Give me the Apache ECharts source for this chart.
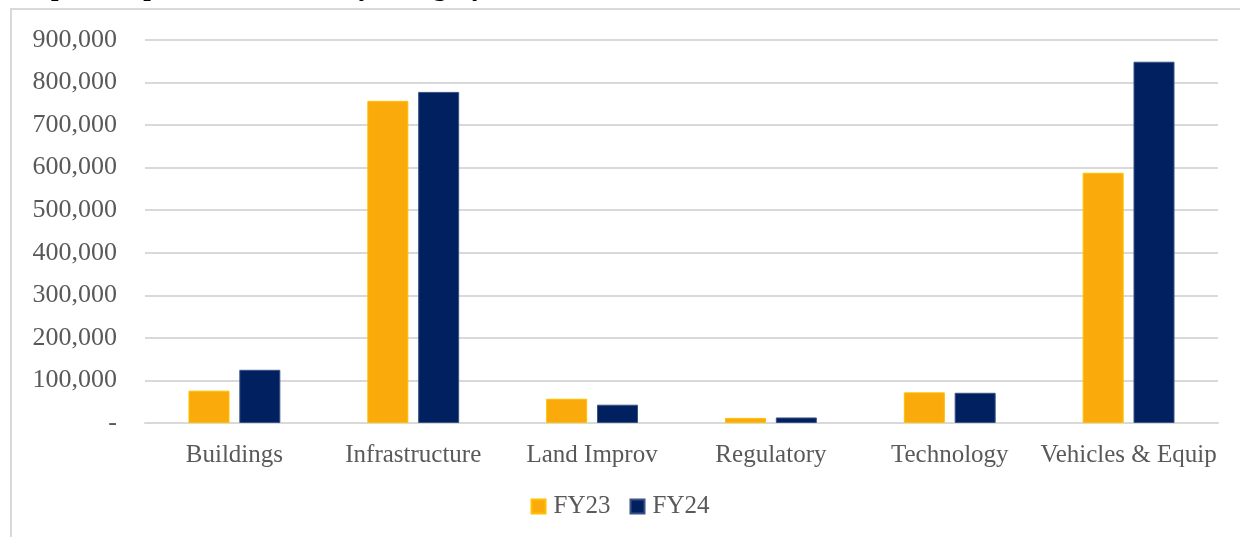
<!DOCTYPE html>
<html>
<head>
<meta charset="utf-8">
<title>Capital Improvement Costs by Category</title>
<script src="https://cdn.jsdelivr.net/npm/echarts@6/dist/echarts.min.js"></script>
<style>
    html, body { margin: 0; padding: 0; background: #fff; }
    #chart { width: 1240px; height: 537px; }
</style>
</head>
<body>
<div id="chart"></div>
<script>
    // data
    var categories = ['Buildings', 'Infrastructure', 'Land Improv', 'Regulatory', 'Technology', 'Vehicles & Equip'];
    var fy23 = [76000, 757000, 57000, 12000, 72000, 588000];
    var fy24 = [125000, 778000, 43000, 13000, 71000, 849000];
    var seriesNames = ['FY23', 'FY24'];

    var font = '"Liberation Serif", "DejaVu Serif", serif';
    var myChart = echarts.init(document.getElementById('chart'));

    myChart.setOption({
        animation: false,
        textStyle: { fontFamily: font },
        graphic: [
            {
                // frame round the chart
                type: 'rect',
                z: -1,
                shape: { x: 11, y: 9, width: 1260, height: 600 },
                style: { fill: 'none', stroke: '#d9d9d9', lineWidth: 2 }
            },
            {
                // title, mostly cut off at the top edge
                type: 'text',
                x: 18,
                y: 2,
                style: {
                    text: 'Capital Improvement Costs by Category',
                    font: 'bold 27px ' + font,
                    fill: '#000',
                    verticalAlign: 'bottom'
                }
            }
        ],
        grid: { left: 145, right: 22, top: 40, bottom: 114 },
        legend: {
            data: seriesNames,
            bottom: 13,
            left: 'center',
            itemWidth: 14,
            itemHeight: 14,
            itemGap: 19,
            icon: 'rect',
            textStyle: { color: '#595959', fontSize: 25, fontFamily: font, padding: [0, 0, 0, 3] }
        },
        xAxis: {
            type: 'category',
            data: categories,
            axisTick: { show: false },
            axisLine: { lineStyle: { color: '#d9d9d9', width: 2 } },
            axisLabel: { color: '#595959', fontSize: 25, fontFamily: font, margin: 20, interval: 0 }
        },
        yAxis: {
            type: 'value',
            min: 0,
            max: 900000,
            interval: 100000,
            axisLine: { show: false },
            axisTick: { show: false },
            splitLine: { lineStyle: { color: '#d9d9d9', width: 2 } },
            axisLabel: {
                color: '#595959',
                fontSize: 26,
                fontFamily: font,
                margin: 28,
                formatter: function (v) {
                    return v === 0 ? '-' : v.toLocaleString('en-US');
                }
            }
        },
        series: [
            {
                name: seriesNames[0],
                type: 'bar',
                data: fy23,
                barWidth: 41,
                barGap: '24%',
                itemStyle: { color: '#FAAA0A', borderColor: '#FFC000', borderWidth: 1 }
            },
            {
                name: seriesNames[1],
                type: 'bar',
                data: fy24,
                barWidth: 41,
                itemStyle: { color: '#002060', borderColor: '#3A5384', borderWidth: 1 }
            }
        ]
    });
</script>
</body>
</html>
